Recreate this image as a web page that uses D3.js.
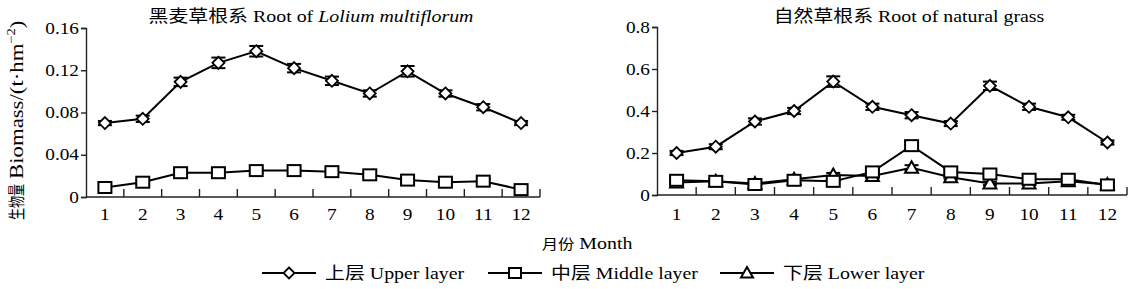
<!DOCTYPE html>
<html>
<head>
<meta charset="utf-8">
<script src="https://cdn.jsdelivr.net/npm/d3@7"></script>
<style>
  body { margin: 0; background: #fff; }
  svg { display: block; font-family: "Liberation Serif", "Noto Sans CJK SC", serif; }
</style>
</head>
<body>
<div id="chart"></div>
<script>
// ---- data ----
const months = ["1","2","3","4","5","6","7","8","9","10","11","12"];

// ryegrass (Lolium multiflorum) roots
const ryeUpper    = [0.070, 0.074, 0.109, 0.127, 0.138, 0.122, 0.110, 0.098, 0.119, 0.098, 0.085, 0.070];
const ryeUpperErr = [0.002, 0.003, 0.004, 0.005, 0.005, 0.004, 0.004, 0.003, 0.005, 0.003, 0.003, 0.002];
const ryeMiddle   = [0.009, 0.014, 0.023, 0.023, 0.025, 0.025, 0.024, 0.021, 0.016, 0.014, 0.015, 0.007];
const ryeMiddleErr= [0.002, 0.002, 0.002, 0.002, 0.002, 0.002, 0.002, 0.002, 0.002, 0.002, 0.002, 0.002];

// natural grass roots
const natUpper    = [0.20, 0.23, 0.35, 0.40, 0.54, 0.42, 0.38, 0.34, 0.52, 0.42, 0.37, 0.25];
const natUpperErr = [0.010, 0.012, 0.015, 0.015, 0.025, 0.015, 0.015, 0.012, 0.020, 0.015, 0.012, 0.010];
const natMiddle   = [0.070, 0.065, 0.050, 0.070, 0.065, 0.110, 0.235, 0.110, 0.100, 0.075, 0.075, 0.048];
const natMiddleErr= [0.010, 0.010, 0.008, 0.010, 0.010, 0.012, 0.020, 0.012, 0.010, 0.010, 0.010, 0.008];
const natLower    = [0.060, 0.065, 0.055, 0.075, 0.095, 0.090, 0.130, 0.085, 0.055, 0.055, 0.065, 0.050];
const natLowerErr = [0.008, 0.008, 0.008, 0.008, 0.010, 0.010, 0.012, 0.010, 0.008, 0.008, 0.008, 0.008];

const ryeTicks = [0, 0.04, 0.08, 0.12, 0.16];
const natTicks = [0, 0.2, 0.4, 0.6, 0.8];

const layerCN = ["上层", "中层", "下层"];
const layerEN = ["Upper layer", "Middle layer", "Lower layer"];
const layerSymbols = ["diamond", "square", "triangle"];

const W = 1131, H = 289;
const SX = 1.17;   // the reference's lettering is a bit wide, so text is stretched sideways
const svg = d3.select("#chart").append("svg").attr("width", W).attr("height", H);

// horizontal text made of parts {s, cjk, it}
function htext(parent, x, y, anchor, parts, size) {
  const t = parent.append("g").attr("transform", `translate(${x},${y}) scale(${SX},1)`)
    .append("text").attr("text-anchor", anchor).attr("font-size", size);
  parts.forEach(p => t.append("tspan")
    .attr("font-style", p.it ? "italic" : null)
    .attr("font-family", p.cjk ? "Noto Sans CJK SC, sans-serif" : null)
    .attr("font-size", p.size || null)
    .text(p.s));
  return t;
}

function marker(g, kind, cx, cy, r) {
  r = r || 6;
  if (kind === "diamond") {
    g.append("path").attr("d", `M${cx},${cy-r}L${cx+r},${cy}L${cx},${cy+r}L${cx-r},${cy}Z`)
      .attr("fill", "#fff").attr("stroke", "#000").attr("stroke-width", 1.8);
  } else if (kind === "square") {
    g.append("rect").attr("x", cx-r-0.5).attr("y", cy-r+0.5).attr("width", 2*r+1).attr("height", 2*r-1)
      .attr("fill", "#fff").attr("stroke", "#000").attr("stroke-width", 2);
  } else {
    g.append("path").attr("d", `M${cx},${cy-r-0.5}L${cx+r+0.5},${cy+r-1}L${cx-r-0.5},${cy+r-1}Z`)
      .attr("fill", "#fff").attr("stroke", "#000").attr("stroke-width", 2);
  }
}

function panel(opt) {
  const x = d3.scaleBand().domain(months).range([opt.x0, opt.x1]);
  const y = d3.scaleLinear().domain([0, opt.ymax]).range([opt.y0, opt.y1]);
  const cx = m => x(m) + x.bandwidth() / 2;
  const g = svg.append("g");

  // y axis (labels drawn separately so they can be widened)
  const ya = g.append("g").attr("transform", `translate(${opt.x0},0)`)
    .call(d3.axisLeft(y).tickValues(opt.ticks).tickSize(5).tickFormat(""));
  ya.select(".domain").attr("stroke", "#222").attr("stroke-width", 1.4);
  ya.selectAll(".tick line").attr("stroke", "#222").attr("stroke-width", 1.4);
  opt.ticks.forEach(v => htext(g, opt.x0 - 7, y(v) + 5.5, "end", [{s: opt.fmt(v)}], 16.5));

  // x axis: baseline, inward ticks at category boundaries, month labels
  g.append("line").attr("x1", opt.x0).attr("x2", opt.x1).attr("y1", opt.y0).attr("y2", opt.y0)
    .attr("stroke", "#222").attr("stroke-width", 1.4);
  const bounds = months.slice(1).map(m => x(m)).concat([opt.x1]);
  g.selectAll(".xt").data(bounds).join("line")
    .attr("x1", d => d).attr("x2", d => d).attr("y1", opt.y0).attr("y2", opt.y0 - 8)
    .attr("stroke", "#222").attr("stroke-width", 1.4);
  months.forEach(m => htext(g, cx(m), 220, "middle", [{s: m}], 16.5));

  // title
  htext(g, opt.tx, 22, "middle", opt.title, 17);

  // series: lines first, then error bars and markers
  opt.series.forEach(s => {
    g.append("path").datum(s.v)
      .attr("d", d3.line().x((d, i) => cx(months[i])).y(d => y(d)))
      .attr("fill", "none").attr("stroke", "#000").attr("stroke-width", 2);
  });
  opt.series.forEach(s => {
    s.v.forEach((v, i) => {
      const px = cx(months[i]), e = s.e[i];
      g.append("line").attr("x1", px).attr("x2", px).attr("y1", y(v + e)).attr("y2", y(v - e))
        .attr("stroke", "#000").attr("stroke-width", 1.6);
      [v + e, v - e].forEach(b => g.append("line").attr("x1", px - 7).attr("x2", px + 7)
        .attr("y1", y(b)).attr("y2", y(b)).attr("stroke", "#000").attr("stroke-width", 2));
      marker(g, s.sym, px, y(v));
    });
  });
}

panel({
  x0: 86, x1: 540, y0: 197, y1: 28, ymax: 0.16, ticks: ryeTicks,
  fmt: d => d === 0 ? "0" : d.toFixed(2), tx: 311,
  title: [{s: "黑麦草根系", cjk: true}, {s: "  Root of  "}, {s: "Lolium multiflorum", it: true}],
  series: [
    {v: ryeUpper, e: ryeUpperErr, sym: "diamond"},
    {v: ryeMiddle, e: ryeMiddleErr, sym: "square"}
  ]
});

panel({
  x0: 657, x1: 1127, y0: 195, y1: 27, ymax: 0.8, ticks: natTicks,
  fmt: d => d === 0 ? "0" : d.toFixed(1), tx: 909,
  title: [{s: "自然草根系", cjk: true}, {s: "  Root of natural grass"}],
  series: [
    {v: natLower, e: natLowerErr, sym: "triangle"},
    {v: natMiddle, e: natMiddleErr, sym: "square"},
    {v: natUpper, e: natUpperErr, sym: "diamond"}
  ]
});

// y axis title: Chinese part is squeezed in the reference
const yg = svg.append("g").attr("transform", "translate(23,220) rotate(-90)");
yg.append("text").attr("x", 0).attr("y", 0).attr("font-size", 17)
  .attr("font-family", "Noto Sans CJK SC, sans-serif")
  .attr("textLength", 36).attr("lengthAdjust", "spacingAndGlyphs").text("生物量");
const yt = yg.append("g").attr("transform", "translate(41,0) scale(1.2,1)")
  .append("text").attr("font-size", 19);
yt.append("tspan").text("Biomass/(t·hm");
yt.append("tspan").attr("font-size", 12).attr("dy", -8).text("−2");
yt.append("tspan").attr("dy", 8).text(")");

// x axis title
htext(svg, 587, 249, "middle", [{s: "月份", cjk: true, size: 14}, {s: " Month"}], 17);

// legend
const legX = [262, 488, 720];
layerCN.forEach((cn, i) => {
  const lg = svg.append("g");
  const lx = legX[i], ly = 273;
  lg.append("line").attr("x1", lx).attr("x2", lx + 54).attr("y1", ly).attr("y2", ly)
    .attr("stroke", "#000").attr("stroke-width", 2.2);
  marker(lg, layerSymbols[i], lx + 27, ly, 5.5);
  htext(lg, lx + 63, ly + 6, "start", [{s: cn, cjk: true}, {s: "  " + layerEN[i]}], 17);
});
</script>
</body>
</html>
